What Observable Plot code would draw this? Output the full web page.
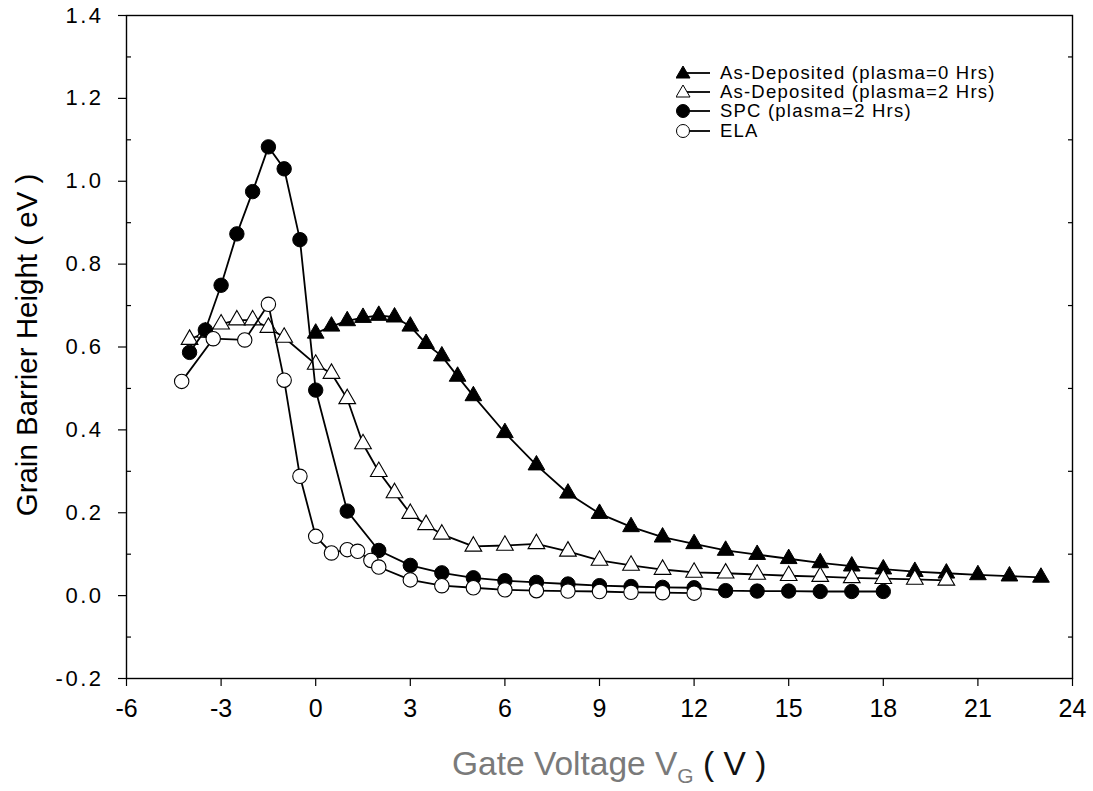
<!DOCTYPE html>
<html>
<head>
<meta charset="utf-8">
<script src="https://cdn.jsdelivr.net/npm/d3@7"></script>
<script src="https://cdn.jsdelivr.net/npm/@observablehq/plot@0.6"></script>
<style>
  html, body { margin: 0; padding: 0; background: #fff; }
  #wrap { position: relative; width: 1093px; height: 791px; font-family: "Liberation Sans", Arial, sans-serif; }
  #legend { position: absolute; left: 676px; top: 63px; font-size: 18.5px; color: #000; letter-spacing: 1.2px; }
  #legend .row { display: flex; align-items: center; height: 19.3px; white-space: pre; }
  #legend svg { margin-right: 8px; }
</style>
</head>
<body>
<div id="wrap"></div>
<script>
// ---- data ----
const seriesNames = [
  "As-Deposited (plasma=0 Hrs)",
  "As-Deposited (plasma=2 Hrs)",
  "SPC (plasma=2 Hrs)",
  "ELA"
];
const asdep0X = [0,0.5,1,1.5,2,2.5,3,3.5,4,4.5,5,6,7,8,9,10,11,12,13,14,15,16,17,18,19,20,21,22,23];
const asdep0Y = [0.633,0.650,0.663,0.671,0.676,0.672,0.650,0.608,0.578,0.529,0.482,0.393,0.315,0.247,0.198,0.166,0.141,0.125,0.109,0.099,0.089,0.079,0.071,0.064,0.058,0.054,0.050,0.047,0.044];
const asdep2X = [-4,-3.5,-3,-2.5,-2,-1.5,-1,0,0.5,1,1.5,2,2.5,3,3.5,4,5,6,7,8,9,10,11,12,13,14,15,16,17,18,19,20];
const asdep2Y = [0.618,0.635,0.655,0.665,0.665,0.647,0.623,0.558,0.536,0.475,0.366,0.299,0.248,0.198,0.171,0.148,0.119,0.121,0.125,0.107,0.085,0.073,0.063,0.056,0.054,0.051,0.048,0.046,0.043,0.041,0.039,0.037];
const spcX = [-4,-3.5,-3,-2.5,-2,-1.5,-1,-0.5,0,1,2,3,4,5,6,7,8,9,10,11,12,13,14,15,16,17,18];
const spcY = [0.587,0.641,0.749,0.873,0.975,1.083,1.030,0.859,0.496,0.204,0.109,0.073,0.055,0.043,0.036,0.032,0.028,0.024,0.022,0.020,0.019,0.012,0.011,0.011,0.010,0.010,0.010];
const elaX = [-4.25,-3.25,-2.25,-1.5,-1,-0.5,0,0.5,1,1.33,1.75,2,3,4,5,6,7,8,9,10,11,12];
const elaY = [0.517,0.620,0.617,0.703,0.520,0.288,0.143,0.103,0.111,0.107,0.085,0.069,0.038,0.024,0.019,0.014,0.012,0.011,0.010,0.008,0.007,0.006];

const xTicks = [-6,-3,0,3,6,9,12,15,18,21,24];
const yTicks = [-0.2,0,0.2,0.4,0.6,0.8,1.0,1.2,1.4];
const yMinor = [-0.1,0.1,0.3,0.5,0.7,0.9,1.1,1.3];
const yTitle = "Grain Barrier Height ( eV )";
const xTitle = ["Gate Voltage V", "G", " ( V )"];

const zip = (xs, ys) => xs.map((x, i) => ({x, y: ys[i]}));
const s0 = zip(asdep0X, asdep0Y);
const s1 = zip(asdep2X, asdep2Y);
const s2 = zip(spcX, spcY);
const s3 = zip(elaX, elaY);

const lineOpts = {x: "x", y: "y", stroke: "#000", strokeWidth: 1.8};

const chart = Plot.plot({
  width: 1093,
  height: 791,
  marginTop: 15,
  marginLeft: 126,
  marginRight: 21,
  marginBottom: 113,
  style: {fontFamily: "Liberation Sans, Arial, sans-serif", color: "#000", background: "#fff"},
  x: {domain: [-6, 24]},
  y: {domain: [-0.2, 1.4]},
  marks: [
    Plot.axisX({ticks: xTicks, tickSize: 8, tickPadding: 13, tickFormat: d => String(d), fontSize: 25, label: null, strokeWidth: 1.2}),
    Plot.axisY({ticks: yTicks, tickSize: 8, tickPadding: 15, tickFormat: d => d.toFixed(1), fontSize: 22, label: null, strokeWidth: 1.2}),
    Plot.axisY({ticks: yMinor, tickSize: -5, tickFormat: () => "", label: null, strokeWidth: 1.2}),
    Plot.axisY({anchor: "right", ticks: yMinor, tickSize: -5, tickFormat: () => "", label: null, strokeWidth: 1.2}),
    Plot.frame({stroke: "#000", strokeWidth: 1.4}),
    Plot.line(s0, lineOpts),
    Plot.dot(s0, {x: "x", y: "y", symbol: "triangle", r: 6.2, fill: "#000", stroke: "#000", strokeWidth: 1}),
    Plot.line(s1, lineOpts),
    Plot.dot(s1, {x: "x", y: "y", symbol: "triangle", r: 6.2, fill: "#fff", stroke: "#000", strokeWidth: 1.1}),
    Plot.line(s2, lineOpts),
    Plot.dot(s2, {x: "x", y: "y", symbol: "circle", r: 7.2, fill: "#000", stroke: "#000", strokeWidth: 1}),
    Plot.line(s3, lineOpts),
    Plot.dot(s3, {x: "x", y: "y", symbol: "circle", r: 7.2, fill: "#fff", stroke: "#000", strokeWidth: 1.1})
  ]
});

// letter spacing for y tick labels (SigmaPlot look)
d3.select(chart).selectAll("g[aria-label='y-axis tick label'] text").attr("letter-spacing", "2.5px");

// axis titles
const svg = d3.select(chart);
svg.append("text")
  .attr("transform", "translate(37,345) rotate(-90)")
  .attr("text-anchor", "middle")
  .attr("font-size", 29.5)
  .attr("fill", "#000")
  .text(yTitle);

const xt = svg.append("text")
  .attr("x", 452).attr("y", 775)
  .attr("text-anchor", "start")
  .attr("font-size", 33.5)
  .attr("fill", "#7a7a7a");
xt.append("tspan").text(xTitle[0]);
xt.append("tspan").attr("dy", 8).attr("font-size", 21).text(xTitle[1]);
xt.append("tspan").attr("dy", -8).attr("fill", "#111").text(xTitle[2]);

const wrap = document.getElementById("wrap");
wrap.appendChild(chart);

// legend (HTML overlay)
const legend = document.createElement("div");
legend.id = "legend";
const symbols = [
  {shape: "tri", fill: "#000"},
  {shape: "tri", fill: "#fff"},
  {shape: "circ", fill: "#000"},
  {shape: "circ", fill: "#fff"}
];
seriesNames.forEach((name, i) => {
  const row = document.createElement("div");
  row.className = "row";
  const s = symbols[i];
  const marker = s.shape === "tri"
    ? `<polygon points="7,3 14,15 0,15" fill="${s.fill}" stroke="#000" stroke-width="1"/>`
    : `<circle cx="7" cy="10" r="6.5" fill="${s.fill}" stroke="#000" stroke-width="1"/>`;
  row.innerHTML = `<svg width="36" height="20"><line x1="7" y1="10" x2="34" y2="10" stroke="#000" stroke-width="1.8"/>${marker}</svg><span>${name}</span>`;
  legend.appendChild(row);
});
wrap.appendChild(legend);
</script>
</body>
</html>
